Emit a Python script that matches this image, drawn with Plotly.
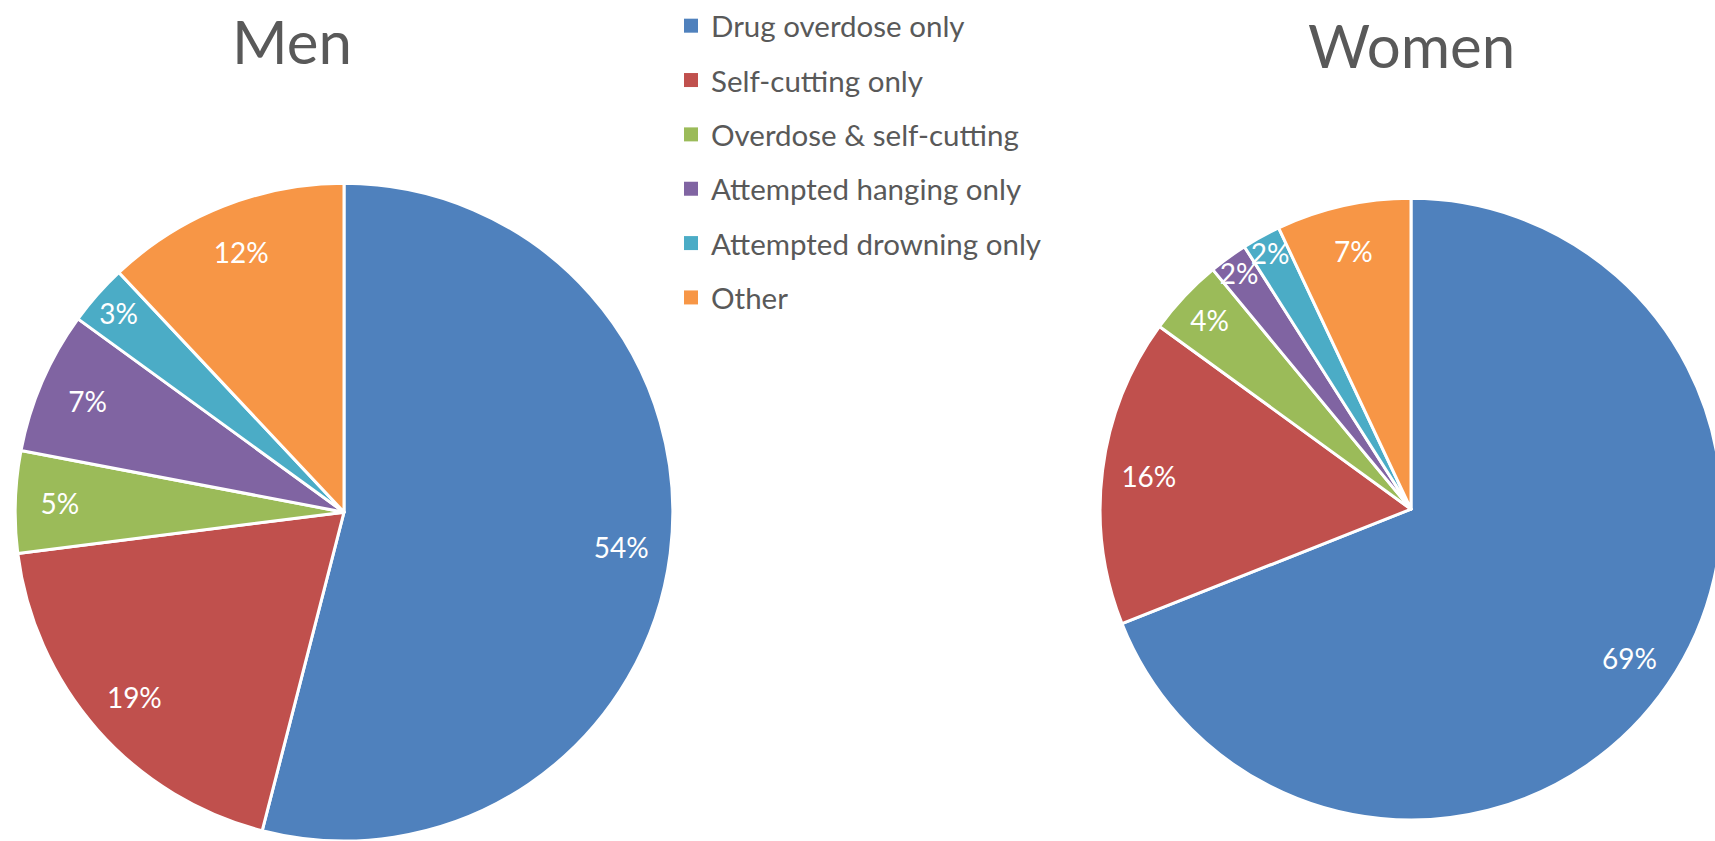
import plotly.graph_objects as go

categories = ["Drug overdose only", "Self-cutting only", "Overdose & self-cutting",
              "Attempted hanging only", "Attempted drowning only", "Other"]
men_values = [54, 19, 5, 7, 3, 12]
women_values = [69, 16, 4, 2, 2, 7]
colors = ["#4F81BD", "#C0504D", "#9BBB59", "#8064A2", "#4BACC6", "#F79646"]

W, H = 1730, 841   # page is 1715 wide; the extra clips the right pie like the original
FONT = "Lato"
GRAY = "#595959"

fig = go.Figure()

def px_dom(x0, x1, top, bottom):
    return dict(x=[x0 / W, x1 / W], y=[1 - bottom / H, 1 - top / H])

def pie(values, name, dom):
    return go.Pie(
        labels=categories, values=values, name=name, domain=dom,
        sort=False, direction="clockwise", rotation=0,
        marker=dict(colors=colors, line=dict(color="white", width=3)),
        textinfo="none", showlegend=False, hoverinfo="label+percent",
    )

def labels_ring(values, name, dom):
    return go.Pie(
        labels=categories, values=values, name=name, domain=dom, hole=0.7,
        sort=False, direction="clockwise", rotation=0,
        marker=dict(colors=["rgba(0,0,0,0)"] * len(values), line=dict(width=0)),
        textinfo="percent", textposition="inside",
        insidetextorientation="horizontal",
        textfont=dict(family=FONT, size=28, color="white"),
        showlegend=False, hoverinfo="skip",
    )

men_dom = px_dom(14, 674, 181, 841)
women_dom = px_dom(1099, 1723, 196, 820)
fig.add_trace(pie(men_values, "Men", men_dom))
fig.add_trace(pie(women_values, "Women", women_dom))
fig.add_trace(labels_ring(men_values, "Men", men_dom))
fig.add_trace(labels_ring(women_values, "Women", women_dom))

# legend entries
for i, (cat, col) in enumerate(zip(categories, colors)):
    fig.add_trace(go.Scatter(
        x=[None], y=[None], mode="markers", name=cat,
        marker=dict(symbol="square", size=14, color=col),
        legendgroup=f"g{i}", showlegend=True, hoverinfo="skip",
    ))

fig.update_layout(
    width=W, height=H,
    margin=dict(l=0, r=0, t=0, b=0),
    paper_bgcolor="white", plot_bgcolor="white",
    xaxis=dict(visible=False), yaxis=dict(visible=False),
    uniformtext=dict(minsize=28, mode="show"),
    legend=dict(
        x=671 / W, y=1 + 3 / H, xanchor="left", yanchor="top",
        traceorder="grouped", tracegroupgap=13,
        font=dict(family=FONT, size=29.5, color=GRAY),
        bgcolor="rgba(0,0,0,0)",
    ),
    annotations=[
        dict(text="Men", x=292 / W, y=1 - 38 / H, xref="paper", yref="paper",
             xanchor="center", yanchor="middle", showarrow=False,
             font=dict(family=FONT, size=60, color=GRAY)),
        dict(text="Women", x=1411 / W, y=1 - 42 / H, xref="paper", yref="paper",
             xanchor="center", yanchor="middle", showarrow=False,
             font=dict(family=FONT, size=60, color=GRAY)),
    ],
)

fig.write_html(
    "out.html",
    config={"displayModeBar": False},
    post_script=(
        "document.documentElement.style.overflow='hidden';"
        "document.body.style.margin='0';document.body.style.overflow='hidden';"
    ),
)
